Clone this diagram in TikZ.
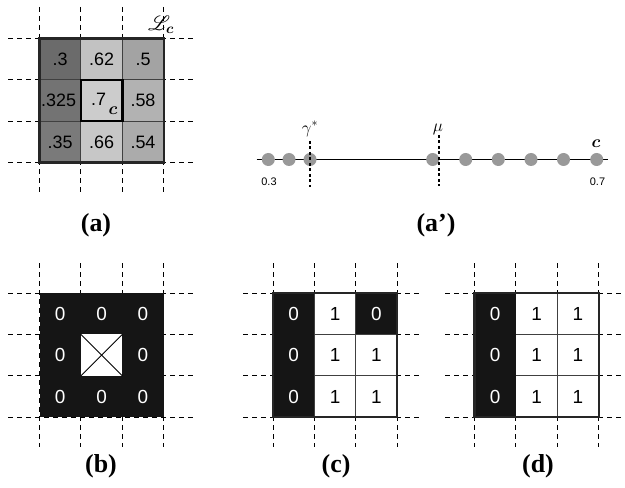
\documentclass[tikz,border=0pt]{standalone}
\usepackage{amsmath}
\usepackage{mathrsfs}
\usepackage{fontspec}
\setmainfont{Liberation Serif}
\setsansfont{Liberation Sans}
\definecolor{ink}{HTML}{151515}
\definecolor{dotgray}{HTML}{999999}
\begin{document}
\begin{tikzpicture}[x=1bp,y=-1bp,
  grid/.style={dash pattern=on 5bp off 4bp, line width=0.9bp},
  num/.style={font=\sffamily\fontsize{18}{20}\selectfont, inner sep=0},
  bin/.style={font=\sffamily\fontsize{19}{21}\selectfont, inner sep=0},
  caplabel/.style={font=\bfseries\fontsize{26}{30}\selectfont, inner sep=0},
  dot/.style={circle, fill=dotgray, minimum size=13bp, inner sep=0},
  thinline/.style={line width=0.9bp, black!75},
  thickline/.style={line width=2.4bp, black!85},
]
\useasboundingbox[fill=white] (0,0) rectangle (625,488);

% ---------- panel (a) ----------
\foreach \i in {0,...,3} {
  \draw[grid] ({39.5+\i*41.4},7) -- ({39.5+\i*41.4},196);
  \draw[grid] (8,{38.5+\i*41.4}) -- (193,{38.5+\i*41.4});
}
\foreach \c/\r/\g in {0/0/42, 1/0/76, 2/0/64, 0/1/45, 1/1/80, 2/1/70, 0/2/48, 1/2/78, 2/2/67} {
  \fill[white!\g!black] ({39.5+\c*41.4},{38.5+\r*41.4}) rectangle +(41.4,41.4);
}
\foreach \i in {1,2} {
  \draw[thinline] ({39.5+\i*41.4},38.5) -- ({39.5+\i*41.4},162.7);
  \draw[thinline] (39.5,{38.5+\i*41.4}) -- (163.7,{38.5+\i*41.4});
}
\draw[thickline] (39.5,38.5) rectangle (163.7,162.7);
\draw[line width=2.4bp, black] (80.9,79.9) rectangle (122.3,121.3);
\node[num] (a00) at (60.2,59.2) {.3};
\node[num] (a10) at (101.6,59.2) {.62};
\node[num] (a20) at (143,59.2) {.5};
\node[num] (a01) at (58.7,100.6) {.325};
\node[num] (a11) at (98.5,99.6) {.7};
\node[num] (a21) at (143,100.6) {.58};
\node[num] (a02) at (60.2,142) {.35};
\node[num] (a12) at (101.6,142) {.66};
\node[num] (a22) at (143,142) {.54};
\node[inner sep=0, font=\fontsize{16}{18}\selectfont] (cc) at (113,111) {$\boldsymbol{c}$};
\node[inner sep=0, font=\fontsize{22}{24}\selectfont] (Lc) at (161,25) {$\mathscr{L}_{\boldsymbol{c}}$};

% ---------- panel (a') ----------
\coordinate (lineL) at (256.5,159.5);
\coordinate (lineR) at (608,159.5);
\draw[line width=0.9bp] (lineL) -- (lineR);
\foreach \n/\x in {1/268.3, 2/289, 3/310, 4/432.7, 5/465.7, 6/498.3, 7/531, 8/563.5, 9/596.7} {
  \node[dot] (d\n) at (\x,159.5) {};
}
\coordinate (gT) at (310,141);
\coordinate (gB) at (310,187);
\coordinate (mT) at (439,135);
\coordinate (mB) at (439,186);
\draw[dash pattern=on 3bp off 2.5bp, line width=1.1bp] (gT) -- (gB);
\draw[dash pattern=on 3bp off 2.5bp, line width=1.1bp] (mT) -- (mB);
\node[inner sep=0, font=\fontsize{18}{20}\selectfont] (gam) at (310,129) {$\gamma^*$};
\node[inner sep=0, font=\fontsize{18}{20}\selectfont] (mu) at (438,129) {$\mu$};
\node[inner sep=0, font=\fontsize{18}{20}\selectfont] (cl) at (596,144) {$\boldsymbol{c}$};
\node[inner sep=0, font=\sffamily\fontsize{11}{13}\selectfont] (v03) at (269,182) {0.3};
\node[inner sep=0, font=\sffamily\fontsize{11}{13}\selectfont] (v07) at (597.5,182) {0.7};

% ---------- labels ----------
\node[caplabel] (la) at (96,225) {(a)};
\node[caplabel] (lap) at (436,225) {(a')};
\node[caplabel] (lb) at (101,466) {(b)};
\node[caplabel] (lc) at (336,466) {(c)};
\node[caplabel] (ld) at (538,466) {(d)};

% ---------- panel (b) ----------
\foreach \i in {0,...,3} {
  \draw[grid] ({39.5+\i*41.4},263) -- ({39.5+\i*41.4},447);
  \draw[grid] (8,{293+\i*41.4}) -- (193,{293+\i*41.4});
}
\fill[ink] (39.5,293) rectangle (163.7,417.2);
\fill[white] (80.9,334.4) rectangle (122.3,375.8);
\draw[line width=0.9bp] (80.9,334.4) -- (122.3,375.8);
\draw[line width=0.9bp] (80.9,375.8) -- (122.3,334.4);
\foreach \c/\r in {0/0,1/0,2/0,0/1,2/1,0/2,1/2,2/2} {
  \node[bin, text=white] (b\c\r) at ({60.2+\c*41.4},{313.7+\r*41.4}) {0};
}

% ---------- panel (c) ----------
\foreach \i in {0,...,3} {
  \draw[grid] ({273+\i*41.4},263) -- ({273+\i*41.4},447);
  \draw[grid] (243,{293+\i*41.4}) -- (421,{293+\i*41.4});
}
\fill[white] (273,293) rectangle (397.2,417.2);
\foreach \i in {1,2} {
  \draw[thinline] ({273+\i*41.4},293) -- ({273+\i*41.4},417.2);
  \draw[thinline] (273,{293+\i*41.4}) -- (397.2,{293+\i*41.4});
}
\fill[ink] (273,293) rectangle (314.4,417.2);
\fill[ink] (355.8,293) rectangle (397.2,334.4);
\draw[thickline] (273,293) rectangle (397.2,417.2);
\node[bin, text=white] (c00) at (293.7,313.7) {0};
\node[bin, text=white] (c01) at (293.7,355.1) {0};
\node[bin, text=white] (c02) at (293.7,396.5) {0};
\node[bin] (c10) at (335.1,313.7) {1};
\node[bin, text=white] (c20) at (376.5,313.7) {0};
\node[bin] (c11) at (335.1,355.1) {1};
\node[bin] (c21) at (376.5,355.1) {1};
\node[bin] (c12) at (335.1,396.5) {1};
\node[bin] (c22) at (376.5,396.5) {1};

% ---------- panel (d) ----------
\foreach \i in {0,...,3} {
  \draw[grid] ({474.5+\i*41.4},263) -- ({474.5+\i*41.4},447);
  \draw[grid] (445,{293+\i*41.4}) -- (624,{293+\i*41.4});
}
\fill[white] (474.5,293) rectangle (598.7,417.2);
\foreach \i in {1,2} {
  \draw[thinline] ({474.5+\i*41.4},293) -- ({474.5+\i*41.4},417.2);
  \draw[thinline] (474.5,{293+\i*41.4}) -- (598.7,{293+\i*41.4});
}
\fill[ink] (474.5,293) rectangle (515.9,417.2);
\draw[thickline] (474.5,293) rectangle (598.7,417.2);
\foreach \r in {0,1,2} {
  \node[bin, text=white] (d0\r) at (495.2,{313.7+\r*41.4}) {0};
  \node[bin] (d1\r) at (536.6,{313.7+\r*41.4}) {1};
  \node[bin] (d2\r) at (578,{313.7+\r*41.4}) {1};
}
\end{tikzpicture}
\end{document}
